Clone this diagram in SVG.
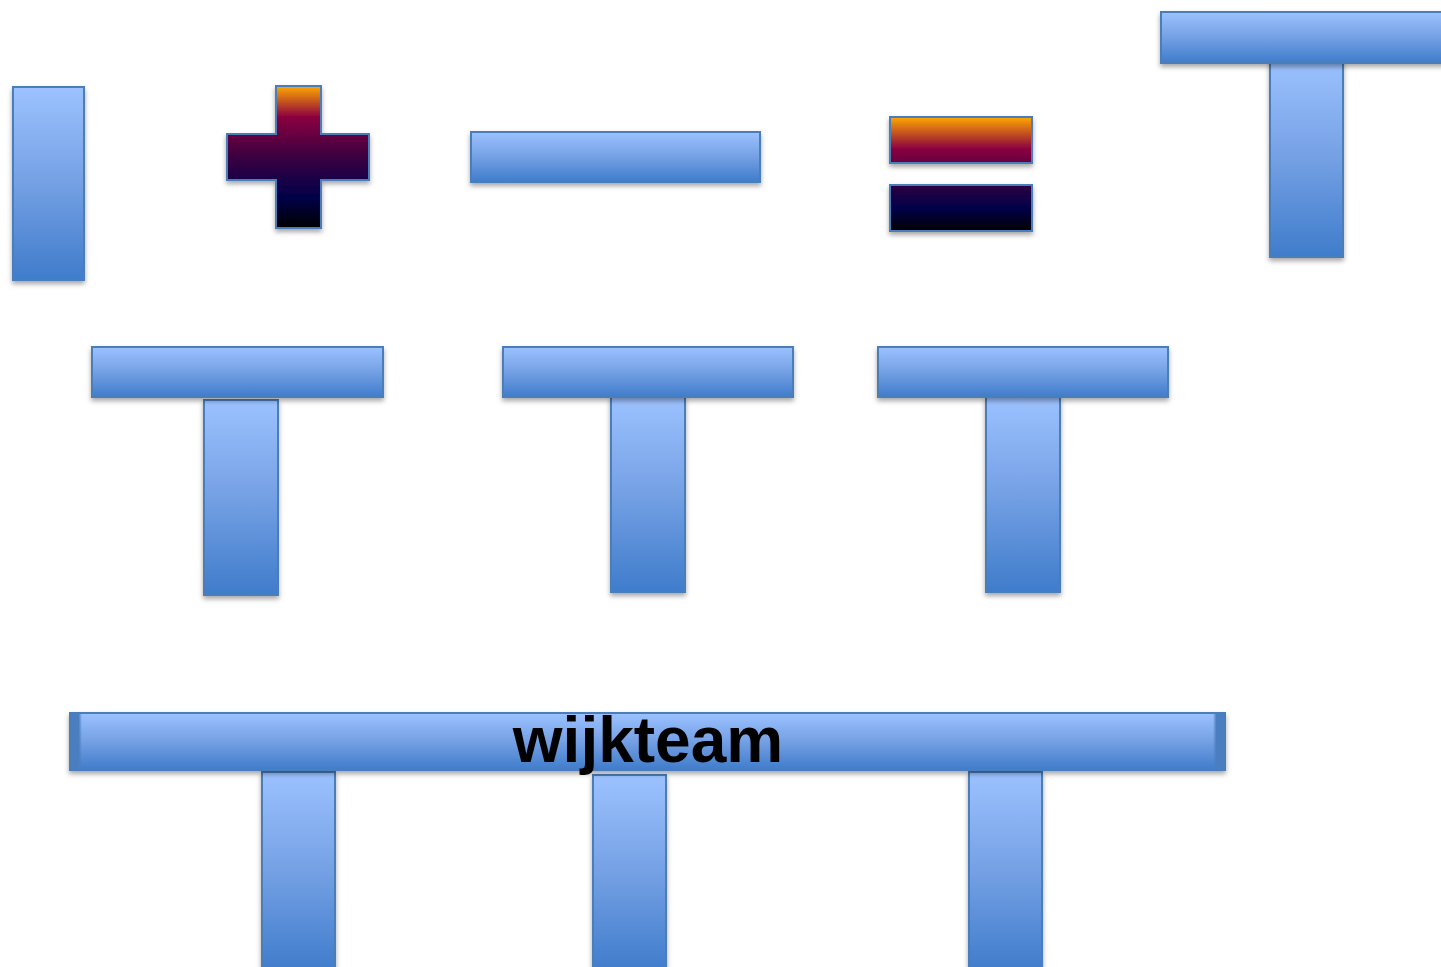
<svg xmlns="http://www.w3.org/2000/svg" width="1441" height="967" viewBox="0 0 1441 967">
<defs>
<linearGradient id="blue" x1="0" y1="0" x2="0" y2="1">
<stop offset="0" stop-color="#9CC2FF"/>
<stop offset="0.5" stop-color="#74A0E4"/>
<stop offset="1" stop-color="#3F7CCB"/>
</linearGradient>
<linearGradient id="edgeL" x1="0" y1="0" x2="1" y2="0">
<stop offset="0" stop-color="#4A7EC0"/>
<stop offset="0.7" stop-color="#4A7EC0"/>
<stop offset="1" stop-color="#4A7EC0" stop-opacity="0"/>
</linearGradient>
<linearGradient id="edgeR" x1="1" y1="0" x2="0" y2="0">
<stop offset="0" stop-color="#4A7EC0"/>
<stop offset="0.7" stop-color="#4A7EC0"/>
<stop offset="1" stop-color="#4A7EC0" stop-opacity="0"/>
</linearGradient>
<linearGradient id="plusg" gradientUnits="userSpaceOnUse" x1="0" y1="86" x2="0" y2="228">
<stop offset="0" stop-color="#FFA800"/>
<stop offset="0.22" stop-color="#8A0040"/>
<stop offset="0.5" stop-color="#3A0040"/>
<stop offset="0.78" stop-color="#02004A"/>
<stop offset="1" stop-color="#000000"/>
</linearGradient>
<linearGradient id="eqg" gradientUnits="userSpaceOnUse" x1="0" y1="117" x2="0" y2="231">
<stop offset="0" stop-color="#FFA800"/>
<stop offset="0.28" stop-color="#8A0040"/>
<stop offset="0.45" stop-color="#5A0040"/>
<stop offset="0.6" stop-color="#2A0040"/>
<stop offset="0.8" stop-color="#02004A"/>
<stop offset="1" stop-color="#000000"/>
</linearGradient>
<filter id="sh" x="-10%" y="-10%" width="120%" height="130%">
<feDropShadow dx="0" dy="3" stdDeviation="2.5" flood-color="#000" flood-opacity="0.35"/>
</filter>
</defs>
<style>
.b{fill:url(#blue);stroke:#4A7EBB;stroke-width:2;filter:url(#sh)}
.p{fill:url(#plusg);stroke:#4A7EBB;stroke-width:2;filter:url(#sh)}
.e{fill:url(#eqg);stroke:#4A7EBB;stroke-width:2;filter:url(#sh)}
.t{font-family:"Liberation Sans",Arial,sans-serif;font-weight:bold;font-size:64px;fill:#000}
</style>
<rect width="1441" height="967" fill="#FFFFFF"/>
<g id="I"><rect class="b" x="13" y="87" width="71" height="193"/></g>
<g id="plus"><path class="p" d="M276,86 H321 V134 H369 V180 H321 V228 H276 V180 H227 V134 H276 Z"/></g>
<g id="minus"><rect class="b" x="471" y="132" width="289" height="50"/></g>
<g id="equals">
<rect class="e" x="890" y="117" width="142" height="46"/>
<rect class="e" x="890" y="185" width="142" height="46"/>
</g>
<g id="T-top">
<rect class="b" x="1270" y="60" width="73" height="197"/>
<rect class="b" x="1161" y="12" width="290" height="51"/>
</g>
<g id="T1">
<rect class="b" x="204" y="400" width="74" height="195"/>
<rect class="b" x="92" y="347" width="291" height="50"/>
</g>
<g id="T2">
<rect class="b" x="611" y="397" width="74" height="195"/>
<rect class="b" x="503" y="347" width="290" height="50"/>
</g>
<g id="T3">
<rect class="b" x="986" y="397" width="74" height="195"/>
<rect class="b" x="878" y="347" width="290" height="50"/>
</g>
<g id="wijkteam">
<rect class="b" x="262" y="772" width="73" height="200"/>
<rect class="b" x="593" y="775" width="73" height="197"/>
<rect class="b" x="969" y="772" width="73" height="200"/>
<rect class="b" x="70" y="713" width="1155" height="57"/>
<rect x="71" y="714" width="11" height="55" fill="url(#edgeL)"/>
<rect x="1213" y="714" width="11" height="55" fill="url(#edgeR)"/>
<text class="t" x="648" y="762" text-anchor="middle">wijkteam</text>
</g>
<g id="connectors"/>
</svg>
